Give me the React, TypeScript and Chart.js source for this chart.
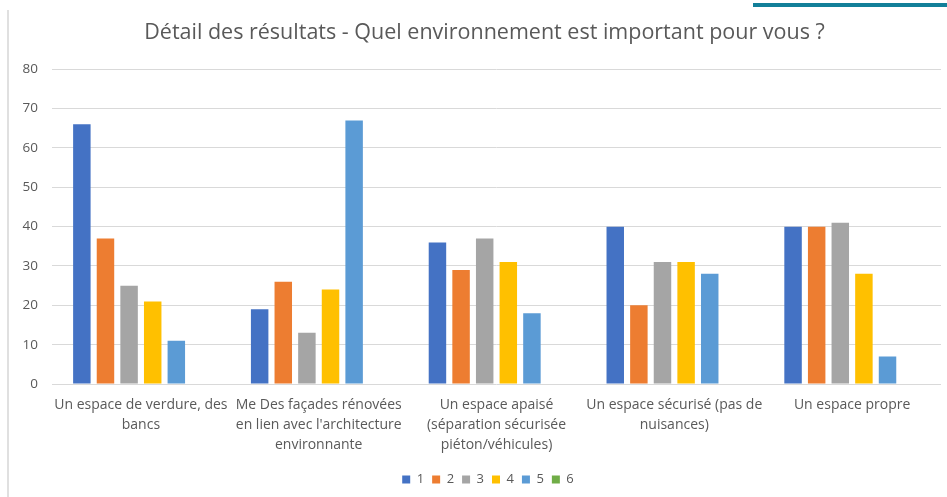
import React, { useEffect, useRef } from "react";
import { Chart, registerables } from "chart.js";

Chart.register(...registerables);

const title = "Détail des résultats - Quel environnement est important pour vous ?";
const categories: string[][] = [
  ["Un espace de verdure, des", "bancs"],
  ["Me Des façades rénovées", "en lien avec l'architecture", "environnante"],
  ["Un espace apaisé", "(séparation sécurisée", "piéton/véhicules)"],
  ["Un espace sécurisé (pas de", "nuisances)"],
  ["Un espace propre"],
];
const seriesNames = ["1", "2", "3", "4", "5", "6"];
const series1 = [66, 19, 36, 40, 40];
const series2 = [37, 26, 29, 20, 40];
const series3 = [25, 13, 37, 31, 41];
const series4 = [21, 24, 31, 31, 28];
const series5 = [11, 67, 18, 28, 7];
const series6 = [0, 0, 0, 0, 0];
const seriesColors = ["#4472C4", "#ED7D31", "#A5A5A5", "#FFC000", "#5B9BD5", "#70AD47"];
const yMin = 0;
const yMax = 80;
const yStep = 10;

const FONT = "'Open Sans', 'DejaVu Sans', sans-serif";
const TEXT = "#595959";

const shiftBoxes = {
  id: "shiftBoxes",
  afterLayout(chart: any) {
    if (chart.legend) {
      chart.legend.left = 35;
      chart.legend.right = 941;
    }
    if (chart.titleBlock) {
      chart.titleBlock.left = 28;
      chart.titleBlock.right = 941;
    }
  },
};

export default function App() {
  const ref = useRef<HTMLCanvasElement | null>(null);
  useEffect(() => {
    if (!ref.current) return;
    const allSeries = [series1, series2, series3, series4, series5, series6];
    const chart = new Chart(ref.current, {
      type: "bar",
      data: {
        labels: categories,
        datasets: allSeries.map((d, i) => ({
          label: seriesNames[i],
          data: d,
          backgroundColor: seriesColors[i],
          borderWidth: 0,
          categoryPercentage: 0.797,
          barPercentage: 0.74,
        })),
      },
      options: {
        animation: false,
        responsive: false,
        maintainAspectRatio: false,
        layout: { padding: { top: 0, left: 18, right: 6, bottom: 1 } },
        plugins: {
          title: {
            display: true,
            text: title,
            color: TEXT,
            font: { family: FONT, size: 21.5, weight: "normal" },
            padding: { top: 20, bottom: 23.5 },
          },
          legend: {
            position: "bottom",
            labels: {
              color: TEXT,
              font: { family: FONT, size: 13 },
              boxWidth: 8,
              boxHeight: 8,
              padding: 8,
            },
          },
          tooltip: { enabled: false },
        },
        scales: {
          x: {
            grid: { display: false, drawTicks: false },
            border: { display: false },
            ticks: {
              color: TEXT,
              font: { family: FONT, size: 14, lineHeight: 1.43 },
              padding: 11,
              maxRotation: 0,
              autoSkip: false,
            },
            afterFit: (scale: any) => {
              scale.height = 81;
            },
          },
          y: {
            min: yMin,
            max: yMax,
            grid: { color: "#D9D9D9", lineWidth: 1, drawTicks: false },
            border: { display: false },
            ticks: {
              stepSize: yStep,
              color: TEXT,
              font: { family: FONT, size: 13.5 },
              padding: 14,
            },
            afterFit: (scale: any) => {
              scale.width = 34;
            },
          },
        },
      },
      plugins: [shiftBoxes],
    });
    return () => chart.destroy();
  }, []);

  return (
    <div style={{ position: "absolute", left: 0, top: 0, width: 947, height: 497, background: "#fff", overflow: "hidden" }}>
      <div style={{ position: "absolute", left: 7, top: 10, width: 2, height: 487, background: "#E0E0E0" }} />
      <div style={{ position: "absolute", left: 753, top: 3, width: 194, height: 4, background: "#127F99" }} />
      <canvas ref={ref} width={947} height={497} style={{ position: "absolute", left: 0, top: 0, width: 947, height: 497 }} />
    </div>
  );
}
